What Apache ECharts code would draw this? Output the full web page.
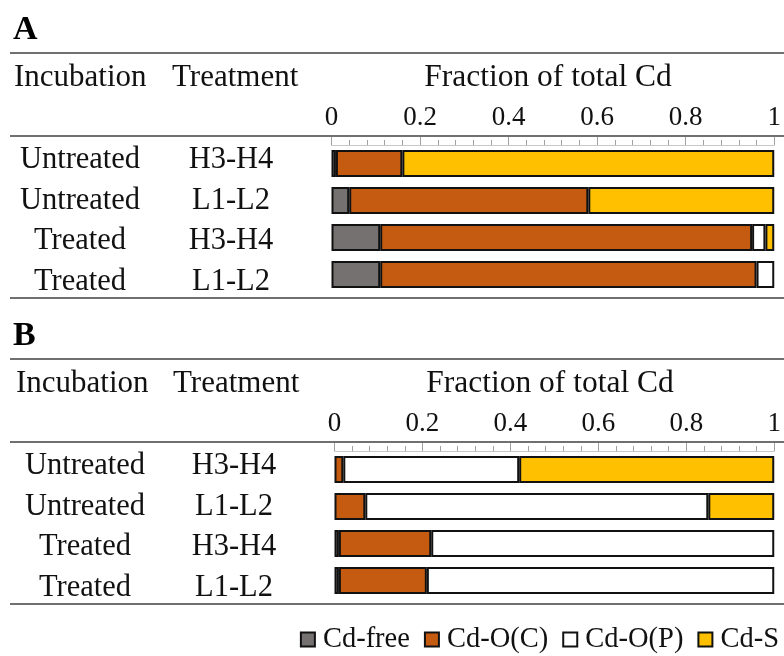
<!DOCTYPE html>
<html>
<head>
<meta charset="utf-8">
<script src="https://cdn.jsdelivr.net/npm/echarts@6/dist/echarts.min.js"></script>
<style>html,body{margin:0;padding:0;background:#fff}#c{width:784px;height:656px}</style>
</head>
<body>
<div id="c"></div>
<script>
// ---- data ----
const incubation = ['Untreated', 'Untreated', 'Treated', 'Treated'];
const treatment = ['H3-H4', 'L1-L2', 'H3-H4', 'L1-L2'];
const seriesNames = ['Cd-free', 'Cd-O(C)', 'Cd-O(P)', 'Cd-S'];
const tickValues = [0, 0.2, 0.4, 0.6, 0.8, 1];
// Panel A fractions (per row)
const A_cdFree = [0.01, 0.04, 0.11, 0.11];
const A_cdOC   = [0.15, 0.54, 0.84, 0.85];
const A_cdOP   = [0, 0, 0.03, 0.04];
const A_cdS    = [0.84, 0.42, 0.02, 0];
// Panel B fractions (per row)
const B_cdFree = [0, 0, 0.01, 0.01];
const B_cdOC   = [0.02, 0.07, 0.21, 0.20];
const B_cdOP   = [0.40, 0.78, 0.78, 0.79];
const B_cdS    = [0.58, 0.15, 0, 0];

const colors = ['#767171', '#c55a11', '#ffffff', '#ffc000'];
const FONT = '"Liberation Serif", "Times New Roman", serif';

const chart = echarts.init(document.getElementById('c'), null, {renderer: 'canvas'});

const panels = [
  {letter: 'A', dy: 0, left: 331.5, right: 9, data: [A_cdFree, A_cdOC, A_cdOP, A_cdS], labelLeft: 80, labelRight: 231},
  {letter: 'B', dy: 306, left: 334.5, right: 8.5, data: [B_cdFree, B_cdOC, B_cdOP, B_cdS], labelLeft: 85, labelRight: 234}
];

const grid = [], xAxis = [], yAxis = [], series = [], graphic = [];
panels.forEach((p, pi) => {
  const dy = p.dy;
  grid.push({left: p.left, right: p.right, top: 145 + dy, height: 148, containLabel: false});
  grid.push({left: p.labelLeft, width: p.labelRight - p.labelLeft, top: 140 + dy, height: 162, containLabel: false});
  const gBar = pi * 2, gLab = pi * 2 + 1;
  xAxis.push({
    gridIndex: gBar, type: 'value', position: 'top', min: 0, max: 1, interval: 0.2,
    axisLine: {show: true, lineStyle: {color: '#c8c8c8', width: 1}},
    axisTick: {show: true, length: 8, lineStyle: {color: '#a0a0a0', width: 1}},
    minorTick: {show: true, splitNumber: 5, length: 5, lineStyle: {color: '#a0a0a0', width: 1}},
    splitLine: {show: false},
    axisLabel: {show: true, margin: 14, fontFamily: FONT, fontSize: 27, color: '#111',
      formatter: v => { const t = tickValues.find(x => Math.abs(x - v) < 1e-9); return t === undefined ? '' : String(t); }}
  });
  xAxis.push({gridIndex: gLab, type: 'value', min: 0, max: 1, show: false});
  yAxis.push({
    gridIndex: gBar, type: 'category', inverse: true, data: incubation.map((c, i) => c + ' ' + treatment[i]),
    axisLine: {show: false}, axisTick: {show: false}, axisLabel: {show: false}
  });
  yAxis.push({
    gridIndex: gLab, type: 'category', inverse: true, position: 'left', data: incubation,
    axisLine: {show: false}, axisTick: {show: false},
    axisLabel: {margin: 0, align: 'center', fontFamily: FONT, fontSize: 30.5, color: '#111'}
  });
  yAxis.push({
    gridIndex: gLab, type: 'category', inverse: true, position: 'right', data: treatment,
    axisLine: {show: false}, axisTick: {show: false},
    axisLabel: {margin: 0, align: 'center', fontFamily: FONT, fontSize: 30.5, color: '#111'}
  });
  const yBarIndex = pi * 3;
  seriesNames.forEach((name, si) => {
    series.push({
      name: name, type: 'bar', stack: 'panel' + pi, xAxisIndex: pi * 2, yAxisIndex: yBarIndex,
      barWidth: 27,
      data: p.data[si].map(v => v > 0 ? v : null),
      itemStyle: {color: colors[si], borderColor: '#111', borderWidth: 2},
      emphasis: {disabled: true}, animation: false
    });
  });
  const lineStyle = {stroke: '#707070', lineWidth: 2};
  graphic.push({type: 'text', left: 13, top: 13 + dy, style: {text: p.letter, font: 'bold 34px ' + FONT, fill: '#000'}});
  graphic.push({type: 'line', shape: {x1: 10, y1: 53 + dy, x2: 784, y2: 53 + dy}, style: lineStyle});
  graphic.push({type: 'line', shape: {x1: 10, y1: 136 + dy, x2: 784, y2: 136 + dy}, style: lineStyle});
  graphic.push({type: 'line', shape: {x1: 10, y1: 298 + dy, x2: 784, y2: 298 + dy}, style: lineStyle});
  graphic.push({type: 'text', x: 14 + (pi ? 2 : 0), y: 78 + dy, style: {text: 'Incubation', font: '31px ' + FONT, fill: '#111', textVerticalAlign: 'middle'}});
  graphic.push({type: 'text', x: 172 + (pi ? 1 : 0), y: 78 + dy, style: {text: 'Treatment', font: '31px ' + FONT, fill: '#111', textVerticalAlign: 'middle'}});
  graphic.push({type: 'text', x: 548 + (pi ? 2 : 0), y: 78 + dy, style: {text: 'Fraction of total Cd', font: '31.5px ' + FONT, fill: '#111', textAlign: 'center', textVerticalAlign: 'middle'}});
});

chart.setOption({
  animation: false,
  backgroundColor: '#fff',
  grid: grid, xAxis: xAxis, yAxis: yAxis, series: series, graphic: graphic,
  legend: {
    data: seriesNames, right: 0, top: 620, icon: 'rect', itemWidth: 14, itemHeight: 14, itemGap: 14,
    selectedMode: false,
    textStyle: {fontFamily: FONT, fontSize: 28.5, color: '#111', padding: [0, 0, 0, 3]}
  }
});
</script>
</body>
</html>
